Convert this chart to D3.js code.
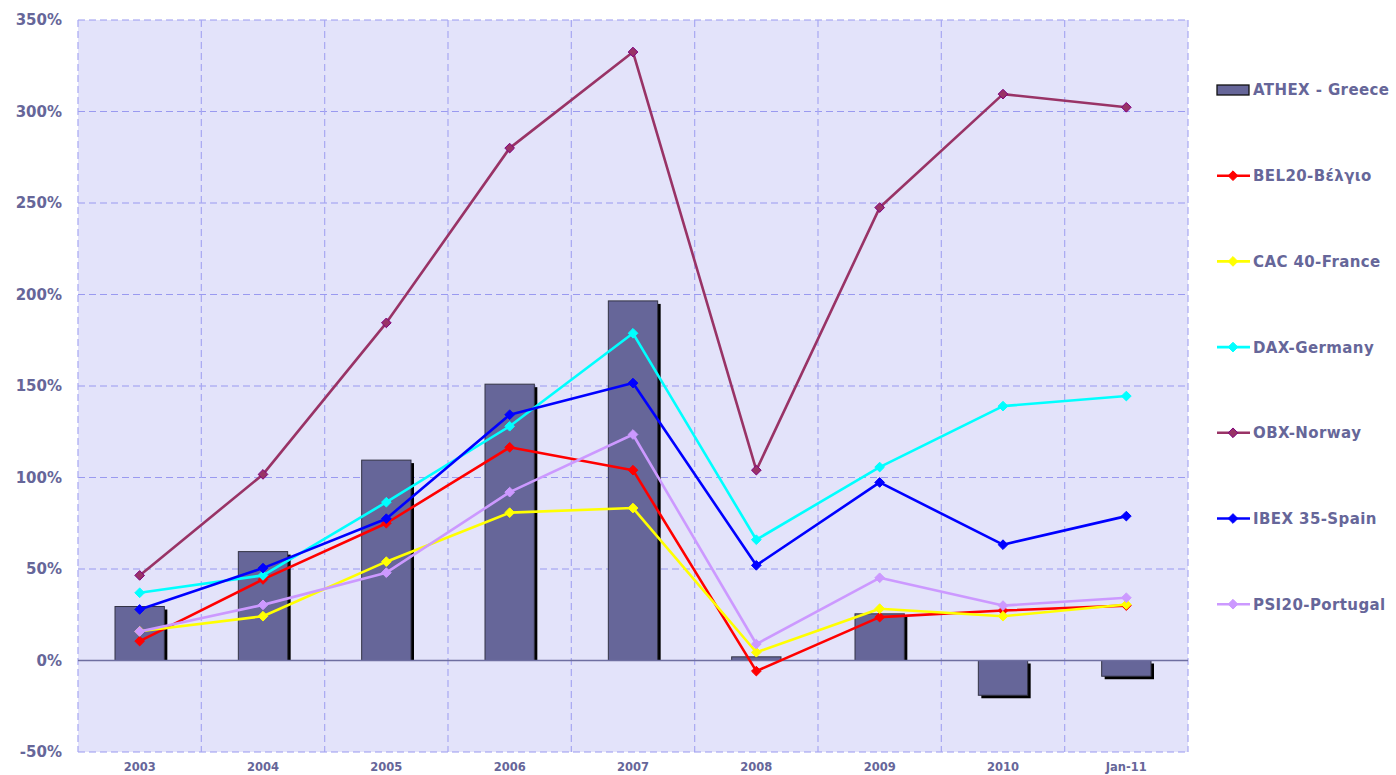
<!DOCTYPE html>
<html><head><meta charset="utf-8">
<script src="https://cdn.jsdelivr.net/npm/d3@7"></script>
<style>body{margin:0;background:#fff;} text{font-family:"DejaVu Sans",Verdana,sans-serif;font-weight:bold;fill:#666699;}</style>
</head><body>
<svg id="c" width="1396" height="775"></svg>
<script>
const categories = ["2003","2004","2005","2006","2007","2008","2009","2010","Jan-11"];
const athex  = [29.5, 59.5, 109.5, 151, 196.5, 2, 25.5, -19, -8.6];
const bel20  = [10.6, 44.3, 75, 116.5, 104, -5.8, 23.7, 27.3, 30];
const cac40  = [16, 24.2, 54, 80.8, 83.3, 4.5, 28.3, 24.2, 30.6];
const dax    = [37, 46.5, 86.5, 128, 178.8, 66, 105.7, 139, 144.5];
const obx    = [46.5, 101.7, 184.5, 280, 332.5, 104, 247.5, 309.5, 302.3];
const ibex   = [27.9, 50.5, 77.5, 134.3, 151.6, 52, 97.3, 63.3, 78.9];
const psi20  = [15.9, 30.4, 48, 92, 123.5, 9, 45.2, 30, 34.3];
const yTicks = [-50, 0, 50, 100, 150, 200, 250, 300, 350];

const lineSeries = [
  {name:"BEL20-Βέλγιο", values:bel20, color:"#ff0000", mark:"#ff0000"},
  {name:"CAC 40-France", values:cac40, color:"#ffff00", mark:"#ffff00"},
  {name:"DAX-Germany", values:dax, color:"#00ffff", mark:"#00ffff"},
  {name:"OBX-Norway", values:obx, color:"#993366", mark:"#993366", stroke:"#800080"},
  {name:"IBEX 35-Spain", values:ibex, color:"#0000ff", mark:"#0000ff"},
  {name:"PSI20-Portugal", values:psi20, color:"#cc99ff", mark:"#cc99ff"}
];

const svg = d3.select("#c");
const L = 78, R = 1188, T = 20, B = 752;
const x = d3.scaleBand().domain(categories).range([L, R]).paddingInner(0).paddingOuter(0);
const y = d3.scaleLinear().domain([-50, 350]).range([B, T]);
const cx = d => x(d) + x.bandwidth()/2;

svg.append("rect").attr("x", L).attr("y", T).attr("width", R-L).attr("height", B-T).attr("fill", "#e3e3fa");

// gridlines
const g = svg.append("g");
g.selectAll(".hg").data(yTicks).join("line")
  .attr("x1", L).attr("x2", R).attr("y1", d=>y(d)).attr("y2", d=>y(d))
  .attr("stroke", "#9a9af0").attr("stroke-width", 1.2).attr("stroke-dasharray", "7,4")
  .attr("display", d => d===0 ? "none" : null);
const vlines = categories.map(c => x(c)).concat([R]);
g.selectAll(".vg").data(vlines).join("line")
  .attr("x1", d=>d).attr("x2", d=>d).attr("y1", T).attr("y2", B)
  .attr("stroke", "#a8a8f2").attr("stroke-width", 1.2).attr("stroke-dasharray", "7,4");

// bars
const bw = x.bandwidth()*0.4;
const barG = svg.append("g");
categories.forEach((c,i) => {
  const v = athex[i];
  const y0 = y(0), y1 = y(v);
  const top = Math.min(y0,y1), h = Math.abs(y1-y0);
  const bx = cx(c) - bw/2;
  barG.append("rect").attr("x", bx+3).attr("y", top+3).attr("width", bw).attr("height", v>=0 ? h-3 : h)
    .attr("fill", "#000");
  barG.append("rect").attr("x", bx).attr("y", top).attr("width", bw).attr("height", h)
    .attr("fill", "#666699").attr("stroke", "#333344").attr("stroke-width", 1);
});

// zero line
svg.append("line").attr("x1", L).attr("x2", R).attr("y1", y(0)).attr("y2", y(0))
  .attr("stroke", "#6e6ea0").attr("stroke-width", 1.3);

// lines
const line = d3.line().x((d,i)=>cx(categories[i])).y(d=>y(d));
const diamond = d3.symbol().type(d3.symbolDiamond2).size(60);
lineSeries.forEach(s => {
  svg.append("path").attr("d", line(s.values)).attr("fill","none")
    .attr("stroke", s.color).attr("stroke-width", 2.6).attr("stroke-linejoin","round");
  svg.append("g").selectAll("path").data(s.values).join("path")
    .attr("d", diamond)
    .attr("transform", (d,i)=>`translate(${cx(categories[i])},${y(d)})`)
    .attr("fill", s.mark).attr("stroke", s.stroke || s.mark).attr("stroke-width", 1);
});

// y axis labels
svg.append("g").selectAll("text").data(yTicks).join("text")
  .attr("x", 62).attr("y", d=>y(d)).attr("dy", "0.36em").attr("text-anchor","end")
  .attr("font-size", 15).text(d => d + "%");

// x axis labels
svg.append("g").selectAll("text").data(categories).join("text")
  .attr("x", d=>cx(d)).attr("y", 771).attr("text-anchor","middle")
  .attr("font-size", 11.5).text(d=>d);

// legend
const legY0 = 90, legStep = 85.7;
const lg = svg.append("g");
lg.append("rect").attr("x", 1217).attr("y", legY0-5).attr("width", 32).attr("height", 10)
  .attr("fill", "#666699").attr("stroke", "#111").attr("stroke-width", 1.3);
lg.append("text").attr("x", 1253).attr("y", legY0).attr("dy","0.36em").attr("font-size", 15)
  .attr("letter-spacing", 0.4).text("ATHEX - Greece");
lineSeries.forEach((s,i) => {
  const yy = legY0 + legStep*(i+1);
  lg.append("line").attr("x1", 1217).attr("x2", 1250).attr("y1", yy).attr("y2", yy)
    .attr("stroke", s.color).attr("stroke-width", 2.6);
  lg.append("path").attr("d", diamond).attr("transform", `translate(1233,${yy})`)
    .attr("fill", s.mark).attr("stroke", s.stroke || s.mark);
  lg.append("text").attr("x", 1253).attr("y", yy).attr("dy","0.36em").attr("font-size", 15)
    .attr("letter-spacing", 0.4).text(s.name);
});
</script>
</body></html>
